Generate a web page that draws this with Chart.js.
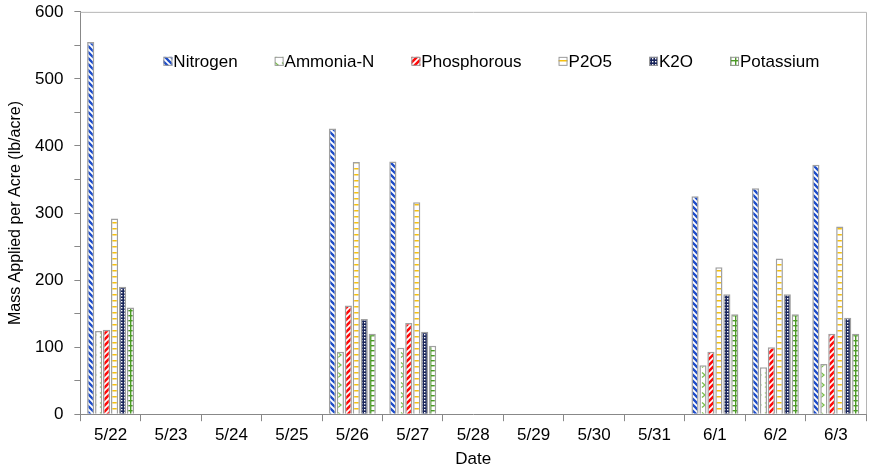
<!DOCTYPE html>
<html>
<head>
<meta charset="utf-8">
<script src="https://cdn.jsdelivr.net/npm/chart.js@4.4.1/dist/chart.umd.min.js"></script>
<style>
  html, body { margin: 0; padding: 0; background: #fff; }
  #wrap { width: 882px; height: 470px; }
</style>
</head>
<body>
<div id="wrap"><canvas id="barChart" width="882" height="470"></canvas></div>
<script>
// dates on the x axis
const dates = ["5/22", "5/23", "5/24", "5/25", "5/26", "5/27", "5/28", "5/29", "5/30", "5/31", "6/1", "6/2", "6/3"];

// mass applied per acre (lb/acre), null = nothing applied that day
const nitrogen   = [555, null, null, null, 426, 377, null, null, null, null, 325, 337, 372];
const ammoniaN   = [124, null, null, null, 93, 99, null, null, null, null, 73, 70, 75];
const phosphorus = [126, null, null, null, 162, 136, null, null, null, null, 93, 100, 120];
const p2o5       = [292, null, null, null, 376, 316, null, null, null, null, 219, 232, 280];
const k2o        = [190, null, null, null, 142, 123, null, null, null, null, 179, 179, 144];
const potassium  = [159, null, null, null, 120, 102, null, null, null, null, 149, 149, 120];

const seriesNames = ["Nitrogen", "Ammonia-N", "Phosphorous", "P2O5", "K2O", "Potassium"];
const yTicks = [0, 100, 200, 300, 400, 500, 600];

const FONT = "'Liberation Sans', Arial, sans-serif";

// fill patterns, one per series
function makePattern(w, h, draw) {
  const c = document.createElement("canvas");
  c.width = w;
  c.height = h;
  const g = c.getContext("2d");
  g.fillStyle = "#fff";
  g.fillRect(0, 0, w, h);
  draw(g);
  return g.createPattern(c, "repeat");
}

function stripes(color, width, back) {
  return makePattern(6, 6, function (g) {
    g.strokeStyle = color;
    g.lineWidth = width;
    g.beginPath();
    if (back) {
      g.moveTo(-3, -3); g.lineTo(9, 9);
      g.moveTo(-9, -3); g.lineTo(3, 9);
      g.moveTo(3, -3); g.lineTo(15, 9);
    } else {
      g.moveTo(-3, 9); g.lineTo(9, -3);
      g.moveTo(-9, 9); g.lineTo(3, -3);
      g.moveTo(3, 9); g.lineTo(15, -3);
    }
    g.stroke();
  });
}

const patNitrogen = stripes("#1d4cc8", 2.3, true);
const patPhos = stripes("#ff0a0a", 2.6, false);
const patAmmonia = makePattern(7, 10, function (g) {
  g.strokeStyle = "#79c04a";
  g.lineWidth = 1.3;
  g.beginPath();
  g.moveTo(2, 2.5); g.lineTo(5, 5); g.lineTo(2, 7.5);
  g.stroke();
});
const patP2o5 = makePattern(7, 6, function (g) {
  g.fillStyle = "#f5c010";
  g.fillRect(0, 0, 7, 1.5);
});
const patK2o = makePattern(3, 3, function (g) {
  g.fillStyle = "#18245a";
  g.fillRect(0, 0, 3, 3);
  g.fillStyle = "#fff";
  g.fillRect(1, 1, 1.4, 1.4);
});
const patPotassium = makePattern(5, 5, function (g) {
  g.fillStyle = "#4a9a24";
  g.fillRect(0, 0, 5, 1.4);
  g.fillRect(0, 0, 1.4, 5);
});

const patterns = [patNitrogen, patAmmonia, patPhos, patP2o5, patK2o, patPotassium];
const seriesData = [nitrogen, ammoniaN, phosphorus, p2o5, k2o, potassium];

// legend drawn inside the plot area, in one row
const innerLegend = {
  id: "innerLegend",
  afterDraw(chart) {
    const ctx = chart.ctx;
    const area = chart.chartArea;
    ctx.save();
    ctx.font = "17px " + FONT;
    ctx.textBaseline = "middle";
    let x = area.left + 83;
    const y = area.top + 50;
    seriesNames.forEach(function (name, i) {
      ctx.fillStyle = patterns[i];
      ctx.fillRect(x, y - 5, 9, 9);
      ctx.strokeStyle = "#9a9a9a";
      ctx.lineWidth = 1;
      ctx.strokeRect(x + 0.5, y - 4.5, 8, 8);
      ctx.fillStyle = "#000";
      ctx.fillText(name, x + 10, y);
      x += 10 + ctx.measureText(name).width + 37;
    });
    ctx.restore();
  }
};

// thin frame round the plot area
const plotFrame = {
  id: "plotFrame",
  beforeDatasetsDraw(chart) {
    const ctx = chart.ctx;
    const a = chart.chartArea;
    ctx.save();
    ctx.strokeStyle = "#b5b5b5";
    ctx.lineWidth = 1;
    ctx.beginPath();
    ctx.moveTo(a.left, a.top + 0.5);
    ctx.lineTo(a.right + 0.5, a.top + 0.5);
    ctx.lineTo(a.right + 0.5, a.bottom);
    ctx.stroke();
    ctx.restore();
  }
};

const ctx = document.getElementById("barChart").getContext("2d");
const myBarChart = new Chart(ctx, {
  type: "bar",
  data: {
    labels: dates,
    datasets: seriesNames.map(function (name, i) {
      return {
        label: name,
        data: seriesData[i],
        backgroundColor: patterns[i],
        borderColor: "#a0a0a0",
        borderWidth: 1.5,
        borderSkipped: "bottom",
        categoryPercentage: 0.79,
        barPercentage: 0.9,
      };
    }),
  },
  options: {
    responsive: false,
    animation: false,
    events: [],
    layout: { padding: { top: 0, right: 16, left: 8, bottom: 0 } },
    plugins: {
      legend: { display: false },
      tooltip: { enabled: false },
    },
    scales: {
      x: {
        grid: {
          display: true,
          drawOnChartArea: false,
          offset: true,
          tickLength: 7,
          color: "#888",
        },
        border: { color: "#888", width: 1 },
        ticks: {
          color: "#000",
          font: { family: FONT, size: 17 },
          maxRotation: 0,
          autoSkip: false,
          padding: 4,
        },
        title: {
          display: true,
          text: "Date",
          color: "#000",
          font: { family: FONT, size: 17 },
          padding: { top: 0, bottom: 0 },
        },
      },
      y: {
        min: 0,
        max: 600,
        grid: {
          display: true,
          drawOnChartArea: false,
          tickLength: 6,
          color: "#888",
        },
        border: { color: "#888", width: 1 },
        ticks: {
          stepSize: 50,
          color: "#000",
          // tiny line height so the top label does not push the plot down
          font: { family: FONT, size: 17, lineHeight: 0.1 },
          padding: 11,
          callback: function (v) {
            return yTicks.indexOf(v) >= 0 ? String(v) : "";
          },
        },
        title: {
          display: true,
          text: "Mass Applied per Acre (lb/acre)",
          color: "#000",
          font: { family: FONT, size: 16, lineHeight: 1.0 },
          padding: { top: 0, bottom: 0 },
        },
      },
    },
  },
  plugins: [plotFrame, innerLegend],
});
</script>
</body>
</html>
